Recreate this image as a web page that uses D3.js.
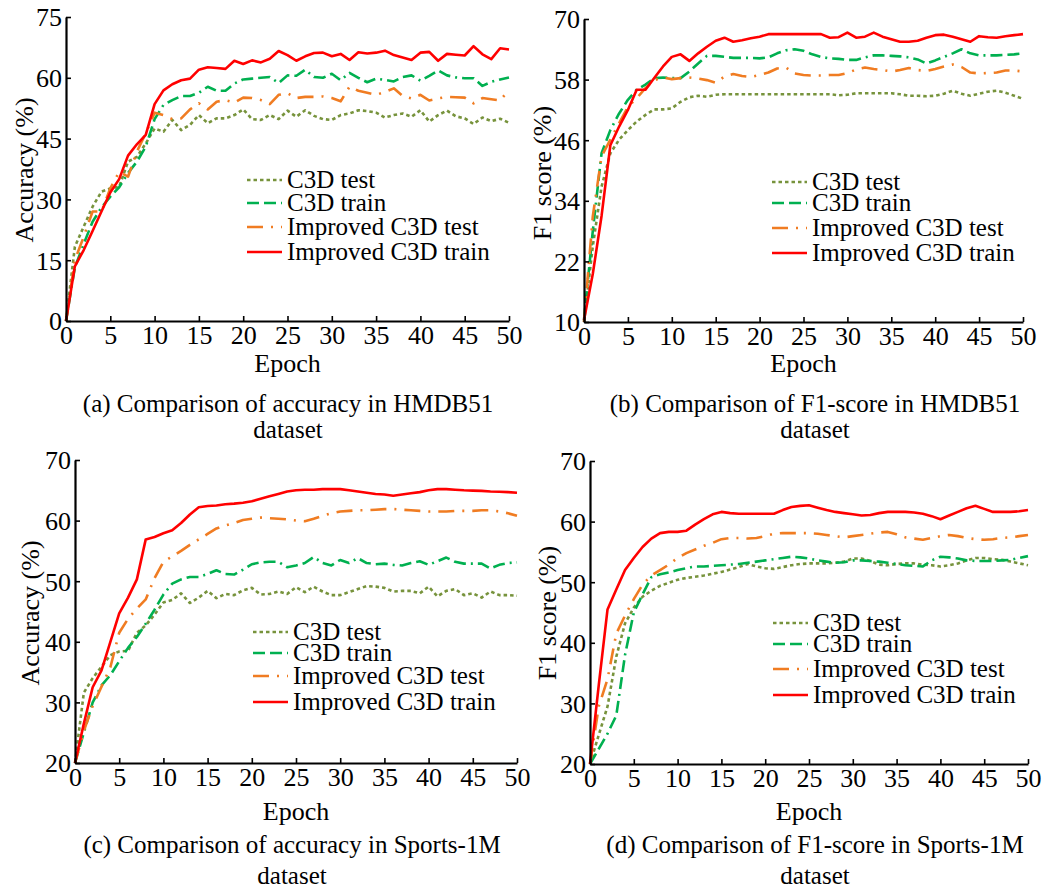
<!DOCTYPE html>
<html>
<head>
<meta charset="utf-8">
<script src="https://cdn.jsdelivr.net/npm/d3@7"></script>
<style>
  body { margin: 0; background: #fff; }
  svg text { font-family: "Liberation Serif", "Times New Roman", Times, serif; fill: #000; }
</style>
</head>
<body>
<div id="chart"></div>
<script>
// epochs shared by every series
const epochs = d3.range(0, 51);

const seriesNames = ["C3D test", "C3D train", "Improved C3D test", "Improved C3D train"];

// (a) accuracy, HMDB51
const aTest = [0, 18.3, 23.3, 28.2, 31.9, 32.7, 33.1, 39.3, 40.5, 43.8, 47.5, 46.7, 49.6, 47.1, 48.4, 50.8, 48.8, 50, 50, 50.8, 52.2, 49.8, 49.6, 50.8, 49.8, 51.9, 50.4, 52, 50.6, 49.8, 49.6, 50.8, 51.2, 52, 51.8, 51.4, 50.2, 50.8, 51.2, 50.4, 52, 49.2, 50.8, 51.9, 50.5, 50, 48.6, 50.2, 49.3, 49.9, 48.9];
const aTrain = [0, 13.2, 19, 24.5, 28, 30.7, 33, 36.5, 39.3, 43, 49.8, 53.3, 54.5, 55.5, 55.5, 56.3, 57.8, 56.8, 56.8, 58.6, 59.6, 59.8, 60, 60.2, 58.7, 60.6, 60.5, 62, 60.2, 60, 61, 59.4, 61.2, 60, 58.9, 59.8, 59.5, 59.1, 60.2, 60.6, 59.3, 60.5, 61.8, 60.6, 60.1, 59.9, 59.9, 58, 59, 59.6, 60.1];
const aImpTest = [0, 15, 20.8, 27, 27, 32.7, 36.8, 35.6, 41.8, 46.3, 51.4, 50.8, 49.8, 50, 52.2, 53.7, 52.2, 54.1, 54.5, 53.9, 55.1, 55, 54.5, 53.5, 55.8, 56.2, 55, 55.3, 55.3, 55.4, 55, 54.2, 57.8, 56.8, 56.3, 55.8, 56.5, 57.4, 55.5, 54.9, 55.8, 54.4, 54.9, 55.3, 55.2, 55.1, 53.7, 55, 54.7, 54.4, 57];
const aImpTrain = [0, 13.5, 17.5, 22.2, 27, 31.7, 35, 40.8, 43.6, 45.9, 53.5, 56.9, 58.4, 59.4, 59.8, 62, 62.6, 62.4, 62.2, 64.2, 63.4, 64.3, 63.8, 64.7, 66.6, 65.6, 64.2, 65.3, 66.1, 66.2, 65.3, 65.9, 64.4, 66.3, 66, 66.2, 66.7, 65.6, 65, 64.4, 66.2, 66.4, 64.2, 65.9, 65.7, 65.5, 67.8, 65.8, 64.6, 67.3, 67];

// (b) F1 score, HMDB51
const bTest = [10, 25, 36.8, 43.4, 46.1, 48, 49.7, 51, 52.1, 52.1, 52.3, 53.6, 54.5, 54.8, 54.6, 55, 55.1, 55.1, 55.1, 55.1, 55.1, 55.1, 55.1, 55.1, 55.1, 55.1, 55.1, 55.1, 55.1, 54.9, 55, 55.3, 55.3, 55.3, 55.3, 55.3, 55.1, 54.8, 54.8, 54.7, 54.8, 55.2, 55.8, 55.2, 54.8, 55.2, 55.6, 55.8, 55.4, 54.8, 54.2];
const bTrain = [10.4, 28, 43.4, 48, 51.3, 54, 56, 57, 58.3, 58.4, 58.3, 58.3, 59.6, 61.2, 62.7, 62.7, 62.5, 62.3, 62.3, 62.3, 62.2, 62.4, 63.2, 63.8, 64, 63.7, 63, 62.5, 62.2, 62.1, 61.9, 61.9, 62.4, 62.8, 62.8, 62.7, 62.6, 62.4, 62, 61.2, 61.8, 62.5, 63.2, 64, 63.2, 62.8, 62.8, 62.8, 62.9, 63, 63.2];
const bImpTest = [10, 30.9, 42.8, 46.1, 49.4, 52.6, 54.3, 56.3, 57.9, 58.4, 58.1, 58.3, 58.4, 58.2, 57.9, 57.4, 58.6, 59.1, 58.7, 58.5, 58.9, 59.4, 60.2, 60.4, 59.2, 58.9, 58.8, 58.8, 58.9, 58.9, 59.3, 60, 60.4, 60.1, 59.9, 59.6, 59.9, 60.3, 59.9, 59.7, 60.1, 60.6, 61, 60.5, 59.4, 59.2, 59.3, 59.4, 59.8, 59.8, 59.6];
const bImpTrain = [10.4, 19.5, 31, 45, 48.7, 52, 56, 56, 58.3, 60.6, 62.5, 63, 61.7, 63.2, 64.5, 65.7, 66.3, 65.5, 65.8, 66.2, 66.5, 67, 67, 67, 67, 67, 67, 67, 66.3, 66.4, 67.3, 66.3, 66.5, 67.3, 66.5, 66, 65.5, 65.5, 65.7, 66.3, 66.8, 66.9, 66.5, 66, 65.5, 66.6, 66.4, 66.3, 66.6, 66.8, 67];

// (c) accuracy, Sports-1M
const cTest = [20, 31.6, 34, 35.9, 37.8, 38.4, 38.5, 41.5, 42.7, 44.5, 46.5, 46.9, 48, 46.4, 47.3, 48.4, 47.2, 47.9, 47.7, 48.5, 48.9, 47.8, 47.9, 48.3, 47.9, 49, 48.2, 49.1, 48.3, 47.7, 47.7, 48.2, 48.7, 49.2, 49.1, 48.9, 48.3, 48.4, 48.4, 48, 49.1, 47.5, 48.4, 48.7, 47.7, 48, 47.3, 48.3, 47.7, 47.7, 47.6];
const cTrain = [20, 25, 30, 32.8, 34.5, 36.8, 39, 40.8, 43, 45.3, 47.8, 49.6, 50.3, 50.7, 50.7, 51.2, 51.8, 51.2, 51.1, 51.9, 52.8, 53.1, 53.2, 53.2, 52.3, 52.6, 53, 54, 53, 52.6, 53.5, 53, 53.8, 53, 52.8, 52.9, 52.7, 52.6, 53, 53.3, 52.7, 53.3, 53.9, 53.2, 52.9, 52.9, 52.9, 52.1, 52.7, 53, 53.1];
const cImpTest = [20, 25.3, 29.4, 32.6, 35.8, 41.5, 43.8, 45.5, 47, 50.5, 53.2, 54.1, 55, 56, 56.9, 57.8, 58.7, 59.2, 59.6, 60.1, 60.3, 60.5, 60.4, 60.3, 60.2, 60, 59.9, 60.3, 60.8, 61.2, 61.5, 61.6, 61.7, 61.7, 61.8, 61.9, 61.9, 61.8, 61.7, 61.6, 61.5, 61.5, 61.5, 61.6, 61.6, 61.6, 61.7, 61.7, 61.5, 61.2, 60.8];
const cImpTrain = [20, 26.5, 32.5, 35.3, 40, 44.7, 47.3, 50.3, 56.9, 57.3, 57.9, 58.4, 59.6, 61, 62.2, 62.4, 62.5, 62.7, 62.8, 62.95, 63.2, 63.6, 64, 64.4, 64.8, 65, 65.1, 65.1, 65.2, 65.2, 65.2, 65, 64.8, 64.6, 64.4, 64.3, 64.1, 64.3, 64.5, 64.7, 65, 65.2, 65.2, 65.1, 65, 64.95, 64.9, 64.8, 64.75, 64.7, 64.6];

// (d) F1 score, Sports-1M
const dTest = [20, 24.8, 29.5, 37.7, 43.2, 45.8, 47.6, 48.6, 49.4, 49.9, 50.4, 50.7, 50.9, 51.1, 51.4, 51.7, 52.1, 52.5, 53, 52.6, 52.3, 52.2, 52.5, 52.8, 53, 53.1, 53.1, 53.1, 53.2, 53.4, 53.9, 53.9, 53.5, 52.9, 52.8, 53, 53.1, 53.1, 52.9, 52.8, 52.6, 52.8, 53.1, 53.6, 54, 54, 53.8, 53.7, 53.4, 53.1, 52.8];
const dTrain = [20, 22.5, 25, 28, 38, 45, 48, 50.8, 51.3, 51.6, 52, 52.3, 52.6, 52.6, 52.7, 52.8, 52.9, 53, 53.2, 53.4, 53.6, 53.8, 54, 54.2, 54.1, 53.9, 53.6, 53.4, 53.2, 53.3, 53.6, 53.6, 53.5, 53.4, 53.2, 53, 52.8, 52.7, 52.6, 53.6, 54.2, 54.1, 53.9, 53.6, 53.5, 53.5, 53.5, 53.6, 53.7, 54, 54.3];
const dImpTest = [20, 29.5, 34, 41.5, 44.5, 47.2, 49.6, 51.1, 52, 52.9, 54, 54.8, 55.4, 56, 56.5, 57.1, 57.3, 57.3, 57.2, 57.3, 57.6, 58, 58.1, 58.1, 58.1, 58.1, 58, 57.8, 57.6, 57.4, 57.6, 57.8, 58, 58.2, 58.3, 57.9, 57.4, 57.2, 57, 57.3, 57.6, 57.8, 57.6, 57.3, 57.1, 57, 57.1, 57.3, 57.4, 57.6, 57.8];
const dImpTrain = [20, 33, 45.5, 48.8, 52, 54, 55.8, 57.2, 58.1, 58.3, 58.3, 58.5, 59.5, 60.4, 61.2, 61.6, 61.4, 61.3, 61.3, 61.3, 61.3, 61.3, 61.9, 62.4, 62.6, 62.7, 62.3, 61.9, 61.6, 61.4, 61.2, 61, 61.1, 61.4, 61.6, 61.6, 61.6, 61.5, 61.3, 60.9, 60.4, 61, 61.6, 62.2, 62.6, 62.1, 61.6, 61.6, 61.6, 61.7, 61.9];

// tick labels
const xTicks = [0, 5, 10, 15, 20, 25, 30, 35, 40, 45, 50];
const aYTicks = [0, 15, 30, 45, 60, 75];
const bYTicks = [10, 22, 34, 46, 58, 70];
const cdYTicks = [20, 30, 40, 50, 60, 70];

// line styles, same order as seriesNames
const colors = ["#77933c", "#00b050", "#f07c22", "#ff0000"];
const dashes = ["3.5,3", "12,5,12,5,2,5", "16,8,2,8", null];

const FONT = '"Liberation Serif", "Times New Roman", Times, serif';

const W = 1048, H = 891;
const svg = d3.select("#chart").append("svg")
  .attr("width", W).attr("height", H)
  .style("background", "#fff");

const panels = [
  { series: [aTest, aTrain, aImpTest, aImpTrain], x0: 66, x1: 509, yTop: 17, yBot: 321, dom: [0, 75], yTicks: aYTicks,
    ylab: "Accuracy (%)", ylabX: 24, ylabY: 170, xlabY: 372, legX: 247, legY: [180, 203, 227, 252],
    cap: ["(a) Comparison of accuracy in HMDB51", "dataset"], capX: 288, capY: [412, 438] },
  { series: [bTest, bTrain, bImpTest, bImpTrain], x0: 584, x1: 1023, yTop: 19, yBot: 322, dom: [10, 70], yTicks: bYTicks,
    ylab: "F1 score (%)", ylabX: 542, ylabY: 173, xlabY: 372, legX: 772, legY: [182, 203, 228, 253],
    cap: ["(b) Comparison of F1-score in HMDB51", "dataset"], capX: 815, capY: [412, 438] },
  { series: [cTest, cTrain, cImpTest, cImpTrain], x0: 75, x1: 517, yTop: 460, yBot: 763, dom: [20, 70], yTicks: cdYTicks,
    ylab: "Accuracy (%)", ylabX: 30, ylabY: 613, xlabY: 820, legX: 253, legY: [632, 653, 676, 702],
    cap: ["(c) Comparison of accuracy in Sports-1M", "dataset"], capX: 292, capY: [853, 884] },
  { series: [dTest, dTrain, dImpTest, dImpTrain], x0: 590, x1: 1028, yTop: 461, yBot: 764, dom: [20, 70], yTicks: cdYTicks,
    ylab: "F1 score (%)", ylabX: 547, ylabY: 613, xlabY: 820, legX: 773, legY: [623, 644, 669, 695],
    cap: ["(d) Comparison of F1-score in Sports-1M", "dataset"], capX: 815, capY: [853, 884] }
];

panels.forEach((p) => {
  const x = d3.scaleLinear().domain([0, 50]).range([p.x0, p.x1]);
  const y = d3.scaleLinear().domain(p.dom).range([p.yBot, p.yTop]);
  const g = svg.append("g");

  // series lines
  const line = d3.line().x((d, i) => x(epochs[i])).y((d) => y(d));
  p.series.forEach((s, k) => {
    g.append("path")
      .datum(s)
      .attr("d", line)
      .attr("fill", "none")
      .attr("stroke", colors[k])
      .attr("stroke-width", 2.6)
      .attr("stroke-linejoin", "round")
      .attr("stroke-dasharray", dashes[k]);
  });

  // axes, ticks pointing inwards
  const xa = g.append("g")
    .attr("transform", `translate(0,${p.yBot})`)
    .call(d3.axisBottom(x).tickValues(xTicks).tickSizeInner(-5).tickSizeOuter(0).tickPadding(5));
  const ya = g.append("g")
    .attr("transform", `translate(${p.x0},0)`)
    .call(d3.axisLeft(y).tickValues(p.yTicks).tickSizeInner(-5).tickSizeOuter(0).tickPadding(4));
  [xa, ya].forEach((a) => {
    a.attr("font-family", FONT).attr("font-size", 26);
    a.select(".domain").attr("stroke", "#000").attr("stroke-width", 2.2);
    a.selectAll(".tick line").attr("stroke", "#000").attr("stroke-width", 1.6);
    a.selectAll("text").attr("fill", "#000");
  });
  ya.selectAll("text").attr("dy", "0.34em");

  // axis titles
  g.append("text")
    .attr("x", (p.x0 + p.x1) / 2)
    .attr("y", p.xlabY)
    .attr("text-anchor", "middle")
    .attr("font-family", FONT)
    .attr("font-size", 26)
    .text("Epoch");
  g.append("text")
    .attr("transform", `translate(${p.ylabX},${p.ylabY}) rotate(-90)`)
    .attr("text-anchor", "middle")
    .attr("dy", "0.35em")
    .attr("font-family", FONT)
    .attr("font-size", 26)
    .text(p.ylab);

  // legend
  seriesNames.forEach((name, k) => {
    g.append("line")
      .attr("x1", p.legX).attr("x2", p.legX + 35)
      .attr("y1", p.legY[k]).attr("y2", p.legY[k])
      .attr("stroke", colors[k])
      .attr("stroke-width", 2.6)
      .attr("stroke-dasharray", dashes[k]);
    g.append("text")
      .attr("x", p.legX + 40)
      .attr("y", p.legY[k])
      .attr("dy", "0.33em")
      .attr("font-family", FONT)
      .attr("font-size", 25)
      .text(name);
  });

  // caption
  p.cap.forEach((c, i) => {
    g.append("text")
      .attr("x", p.capX)
      .attr("y", p.capY[i])
      .attr("text-anchor", "middle")
      .attr("font-family", FONT)
      .attr("font-size", 25)
      .text(c);
  });
});
</script>
</body>
</html>
